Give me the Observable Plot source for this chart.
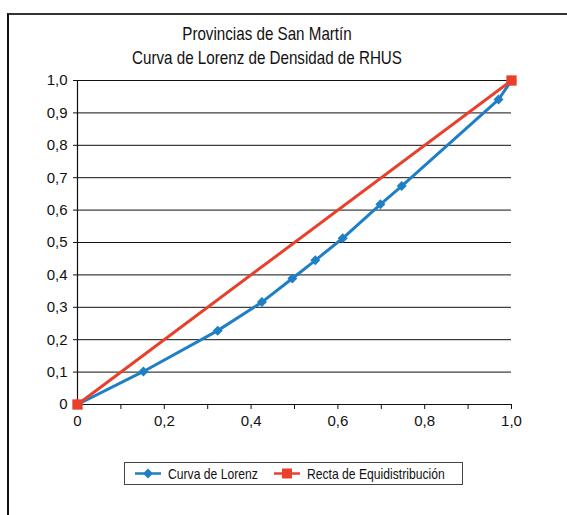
<!DOCTYPE html>
<html>
<head>
<meta charset="utf-8">
<script src="https://cdn.jsdelivr.net/npm/d3@7"></script>
<script src="https://cdn.jsdelivr.net/npm/@observablehq/plot@0.6"></script>
<style>
  html, body { margin: 0; padding: 0; background: #fff; }
  #wrap {
    position: relative; width: 567px; height: 515px; overflow: hidden;
    font-family: "Liberation Sans", Arial, sans-serif; color: #111;
  }
  #frame {
    position: absolute; left: 7px; top: 13px; width: 700px; height: 700px;
    border-left: 2px solid #111; border-top: 2px solid #333; box-sizing: border-box;
  }
  #chart { position: absolute; left: 0; top: 0; }
  #title {
    position: absolute; left: 0; width: 534px; top: 22px;
    text-align: center; font-size: 18.5px; line-height: 23.5px;
    transform: scaleX(0.82); transform-origin: 267px 0;
  }
  #legend {
    position: absolute; left: 124px; top: 462px; width: 339px; height: 23px;
    border: 1px solid #444; box-sizing: border-box; font-size: 15px;
  }
  #legend svg { position: absolute; top: 0; display: block; }
  #legend span {
    position: absolute; top: 0; line-height: 21px; white-space: nowrap;
    transform: scaleX(0.81); transform-origin: 0 0;
  }
</style>
</head>
<body>
<div id="wrap">
  <div id="frame"></div>
  <div id="chart"></div>
  <div id="title">Provincias de San Martín<br>Curva de Lorenz de Densidad de RHUS</div>
  <div id="legend"></div>
</div>
<script>
// Cumulative share of population (x) vs cumulative share of RHUS (y)
const lorenzX = [0, 0.152, 0.323, 0.425, 0.495, 0.548, 0.611, 0.698, 0.747, 0.970, 1.0];
const lorenzY = [0, 0.102, 0.228, 0.316, 0.389, 0.445, 0.513, 0.618, 0.674, 0.941, 1.0];

// Line of perfect equality
const equalX = [0, 1];
const equalY = [0, 1];

// Axis ticks
const yTicks = [0, 0.1, 0.2, 0.3, 0.4, 0.5, 0.6, 0.7, 0.8, 0.9, 1.0];
const xMinorTicks = [0, 0.1, 0.2, 0.3, 0.4, 0.5, 0.6, 0.7, 0.8, 0.9, 1.0];
const xTicks = [0, 0.2, 0.4, 0.6, 0.8, 1.0];

const seriesNames = ["Curva de Lorenz", "Recta de Equidistribución"];
const blue = "#1f7fc4";
const red = "#e8402b";

const lorenz = lorenzX.map((x, i) => ({x, y: lorenzY[i]}));
const equal = equalX.map((x, i) => ({x, y: equalY[i]}));

// Spanish decimal comma, one decimal place
const fmt = d => d === 0 ? "0" : d3.format(".1f")(d).replace(".", ",");

// Square diamond marker (d3's built-in diamond is elongated)
const squareDiamond = {
  draw(context, size) {
    const h = Math.sqrt(size / Math.PI);
    context.moveTo(0, -h);
    context.lineTo(h, 0);
    context.lineTo(0, h);
    context.lineTo(-h, 0);
    context.closePath();
  }
};

const chart = Plot.plot({
  width: 567,
  height: 515,
  marginLeft: 77,
  marginRight: 56,
  marginTop: 80,
  marginBottom: 111,
  style: {fontFamily: "'Liberation Sans', Arial, sans-serif", fontSize: "15px", color: "#111", background: "transparent"},
  x: {domain: [0, 1]},
  y: {domain: [0, 1]},
  marks: [
    Plot.ruleY(yTicks, {stroke: "#111", strokeWidth: 1}),
    Plot.ruleX([0], {stroke: "#111", strokeWidth: 1.2}),
    Plot.axisY({ticks: yTicks, tickFormat: fmt, tickSize: 4, tickPadding: 6, label: null, stroke: "#111", strokeOpacity: 1}),
    Plot.axisX({ticks: xMinorTicks, tickFormat: () => "", tickSize: 5, label: null, stroke: "#111", strokeOpacity: 1}),
    Plot.axisX({ticks: xTicks, tickFormat: fmt, tickSize: 0, tickPadding: 11, label: null}),
    Plot.line(lorenz, {x: "x", y: "y", stroke: blue, strokeWidth: 3}),
    Plot.dot(lorenz, {x: "x", y: "y", symbol: squareDiamond, r: 5, fill: blue, stroke: null}),
    Plot.line(equal, {x: "x", y: "y", stroke: red, strokeWidth: 3}),
    Plot.dot(equal, {x: "x", y: "y", symbol: "square", r: 5.8, fill: red, stroke: null})
  ]
});
document.getElementById("chart").appendChild(chart);

// Legend
const legend = document.getElementById("legend");
const items = [
  {name: seriesNames[0], color: blue, left: 10, textLeft: 43, shape: "diamond"},
  {name: seriesNames[1], color: red, left: 149, textLeft: 182, shape: "square"}
];
for (const it of items) {
  const svg = d3.create("svg").attr("width", 26).attr("height", 21).style("left", it.left + "px");
  svg.append("line").attr("x1", 0).attr("x2", 26).attr("y1", 10.5).attr("y2", 10.5)
    .attr("stroke", it.color).attr("stroke-width", 2.5);
  if (it.shape === "diamond") {
    svg.append("path").attr("d", "M13,5.5L18,10.5L13,15.5L8,10.5Z").attr("fill", it.color);
  } else {
    svg.append("rect").attr("x", 8).attr("y", 5.5).attr("width", 10).attr("height", 10).attr("fill", it.color);
  }
  legend.appendChild(svg.node());
  const span = document.createElement("span");
  span.textContent = it.name;
  span.style.left = it.textLeft + "px";
  legend.appendChild(span);
}
</script>
</body>
</html>
